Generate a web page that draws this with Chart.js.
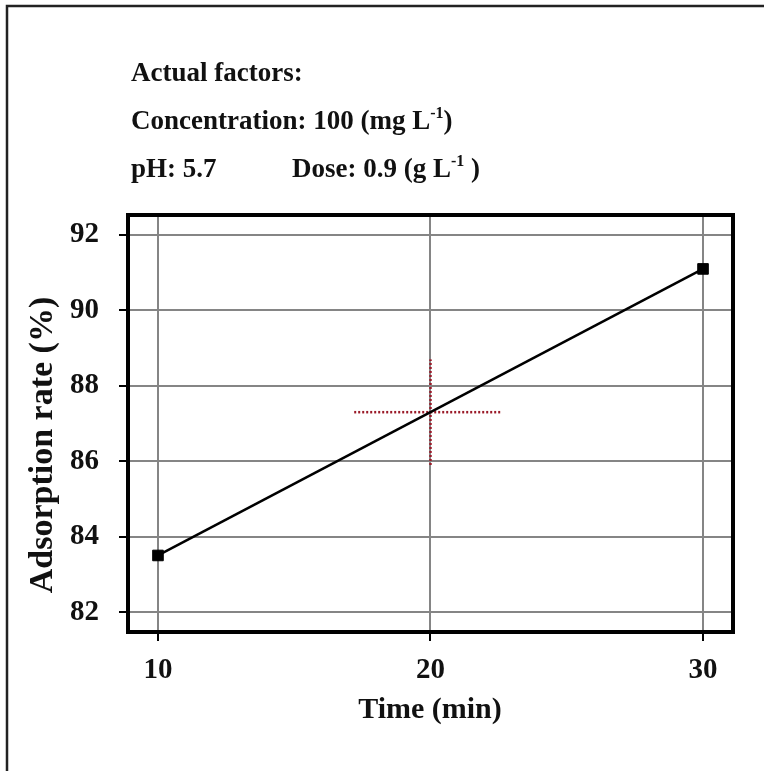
<!DOCTYPE html>
<html>
<head>
<meta charset="utf-8">
<script src="https://cdn.jsdelivr.net/npm/chart.js@4.4.1/dist/chart.umd.min.js"></script>
<style>
  html, body { margin: 0; padding: 0; background: #fff; }
  canvas { display: block; }
</style>
</head>
<body>
<canvas id="chart" width="764" height="771"></canvas>
<script>
// time (min) vs adsorption rate (%)
const timeValues = [10, 30];
const adsorptionValues = [83.5, 91.1];

// centre-point cross (dotted red)
const crossTime = [17.2, 22.6];
const crossRate = [85.9, 88.7];
const centreTime = 20;
const centreRate = 87.3;

const xTicks = [10, 20, 30];
const yTicks = [82, 84, 86, 88, 90, 92];

const serif = '"Liberation Serif", "Times New Roman", serif';
const ink = '#111';

// header lines, each split in runs so the exponent can be drawn raised
const headerLines = [
    { x: 131, y: 81, runs: [{ t: 'Actual factors:' }] },
    { x: 131, y: 129, runs: [{ t: 'Concentration: 100 (mg L' }, { t: '-1', sup: true }, { t: ')' }] },
    { x: 131, y: 177, runs: [{ t: 'pH: 5.7' }] },
    { x: 292, y: 177, runs: [{ t: 'Dose: 0.9 (g L' }, { t: '-1', sup: true }, { t: ' )' }] }
];

const decorations = {
    id: 'decorations',
    afterDraw(chart) {
        const ctx = chart.ctx;
        const area = chart.chartArea;
        ctx.save();

        // outer frame (left and top edges)
        ctx.strokeStyle = '#222';
        ctx.lineWidth = 2.5;
        ctx.beginPath();
        ctx.moveTo(7, 771);
        ctx.lineTo(7, 6);
        ctx.lineTo(764, 6);
        ctx.stroke();

        // plot box
        ctx.strokeStyle = '#000';
        ctx.lineWidth = 4;
        ctx.strokeRect(area.left, area.top, area.right - area.left, area.bottom - area.top);

        // header text
        ctx.fillStyle = ink;
        ctx.textBaseline = 'alphabetic';
        ctx.textAlign = 'left';
        headerLines.forEach(function(line) {
            let x = line.x;
            line.runs.forEach(function(run) {
                if (run.sup) {
                    ctx.font = 'bold 16px ' + serif;
                    ctx.fillText(run.t, x, line.y - 11);
                } else {
                    ctx.font = 'bold 27px ' + serif;
                    ctx.fillText(run.t, x, line.y);
                }
                x += ctx.measureText(run.t).width;
            });
        });

        // axis titles
        ctx.font = 'bold 30px ' + serif;
        ctx.textAlign = 'center';
        ctx.fillText('Time (min)', 430, 718);

        ctx.translate(52, 445);
        ctx.rotate(-Math.PI / 2);
        ctx.font = 'bold 34px ' + serif;
        ctx.fillText('Adsorption rate (%)', 0, 0);
        ctx.restore();
    }
};

const ctx = document.getElementById('chart').getContext('2d');
const chart = new Chart(ctx, {
    type: 'line',
    data: {
        datasets: [
            {
                data: timeValues.map((t, i) => ({ x: t, y: adsorptionValues[i] })),
                borderColor: '#000',
                borderWidth: 2.5,
                pointStyle: 'rect',
                pointRadius: 7.5,
                pointBackgroundColor: '#000',
                pointBorderColor: '#000',
                pointBorderWidth: 1
            },
            {
                data: crossTime.map(t => ({ x: t, y: centreRate })),
                borderColor: '#9a1a28',
                borderWidth: 2.5,
                borderDash: [2, 2],
                pointRadius: 0
            },
            {
                data: crossRate.map(r => ({ x: centreTime, y: r })),
                borderColor: '#9a1a28',
                borderWidth: 2.5,
                borderDash: [2, 2],
                pointRadius: 0
            }
        ]
    },
    options: {
        responsive: false,
        animation: false,
        devicePixelRatio: 1,
        layout: { padding: { top: 215, right: 31, left: 0, bottom: 0 } },
        plugins: {
            legend: { display: false },
            tooltip: { enabled: false }
        },
        scales: {
            x: {
                type: 'linear',
                min: 8.9,
                max: 31.1,
                afterFit: scale => { scale.height = 139; },
                afterBuildTicks: scale => { scale.ticks = xTicks.map(v => ({ value: v })); },
                grid: { color: '#858585', lineWidth: 2, tickColor: '#000', tickWidth: 2, tickLength: 9 },
                border: { color: '#000', width: 4 },
                ticks: {
                    color: ink,
                    padding: 12,
                    font: { family: serif, size: 29, weight: 'bold' }
                }
            },
            y: {
                type: 'linear',
                min: 81.47,
                max: 92.53,
                afterFit: scale => { scale.width = 128; },
                afterBuildTicks: scale => { scale.ticks = yTicks.map(v => ({ value: v })); },
                grid: { color: '#858585', lineWidth: 2, tickColor: '#000', tickWidth: 2, tickLength: 9 },
                border: { color: '#000', width: 4 },
                ticks: {
                    color: ink,
                    padding: 20,
                    font: { family: serif, size: 29, weight: 'bold' }
                }
            }
        }
    },
    plugins: [decorations]
});
</script>
</body>
</html>
